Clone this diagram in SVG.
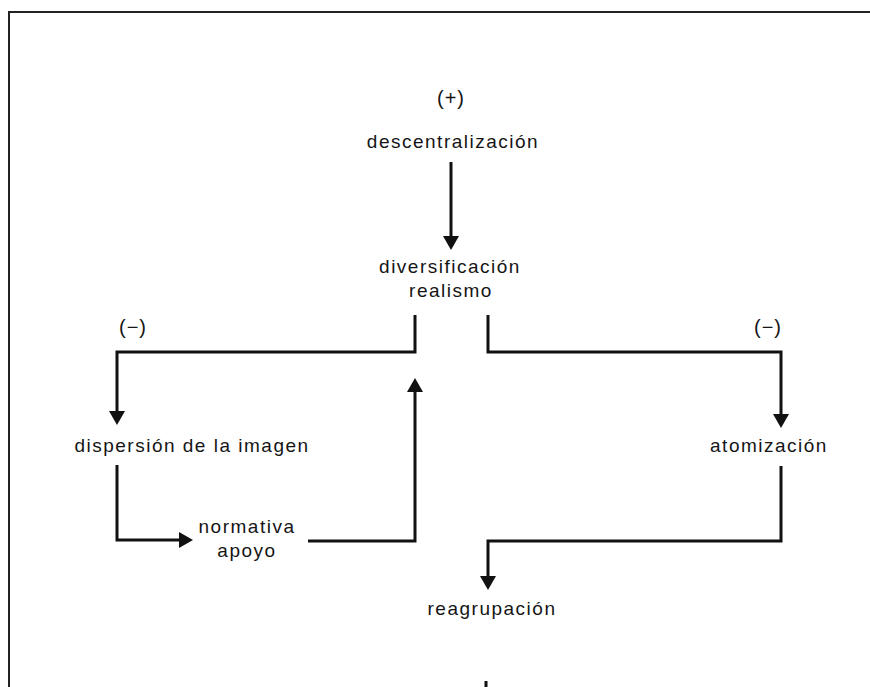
<svg xmlns="http://www.w3.org/2000/svg" width="870" height="687" viewBox="0 0 870 687">
  <defs>
    <!-- filled arrowhead; tip sits 8px beyond the path end -->
    <marker id="head" viewBox="0 0 14 16" refX="6" refY="8" markerWidth="14" markerHeight="16" markerUnits="userSpaceOnUse" orient="auto">
      <path d="M0,0 L14,8 L0,16 Z" fill="#111"/>
    </marker>
  </defs>
  <style>
    .lbl { font-family: "Liberation Sans", Arial, sans-serif; font-size: 19px; letter-spacing: 1.5px; fill: #151515; text-anchor: middle; }
    .sign { font-family: "Liberation Sans", Arial, sans-serif; font-size: 20px; letter-spacing: 1px; fill: #151515; text-anchor: middle; }
    .wire { fill: none; stroke: #111; stroke-width: 3; stroke-linejoin: miter; }
    .arr { marker-end: url(#head); }
    .frame { fill: none; stroke: #222; stroke-width: 2; }
  </style>
  <rect width="870" height="687" fill="#fff"/>

  <!-- page frame (open at right and bottom) -->
  <path class="frame" d="M870,12 H9 V687"/>

  <!-- connectors -->
  <g id="connectors">
    <path class="wire arr" d="M451,162 V242"/>
    <path class="wire arr" d="M415,315 V352 H117 V417"/>
    <path class="wire arr" d="M488,315 V352 H781 V420"/>
    <path class="wire arr" d="M117,465 V540 H185"/>
    <path class="wire arr" d="M308,541 H415 V386"/>
    <path class="wire arr" d="M781,466 V541 H488 V582"/>
    <path class="wire" d="M486,681 V687"/>
  </g>

  <!-- nodes -->
  <g id="sign-plus"><text class="sign" x="451" y="105">(+)</text></g>
  <g id="descentralizacion"><text class="lbl" x="453" y="148">descentralización</text></g>
  <g id="diversificacion"><text class="lbl" x="450" y="273">diversificación</text><text class="lbl" x="451" y="297">realismo</text></g>
  <g id="sign-minus-left"><text class="sign" x="133" y="334">(−)</text></g>
  <g id="sign-minus-right"><text class="sign" x="768" y="334">(−)</text></g>
  <g id="dispersion"><text class="lbl" x="192" y="452">dispersión de la imagen</text></g>
  <g id="normativa"><text class="lbl" x="247" y="533">normativa</text><text class="lbl" x="247" y="557">apoyo</text></g>
  <g id="atomizacion"><text class="lbl" x="769" y="452">atomización</text></g>
  <g id="reagrupacion"><text class="lbl" x="492" y="615">reagrupación</text></g>
</svg>
